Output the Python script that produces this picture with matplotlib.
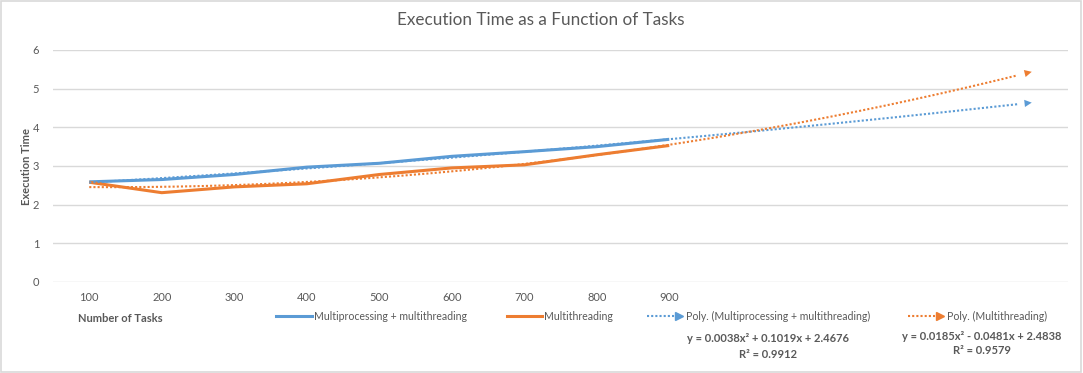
import numpy as np
import matplotlib
matplotlib.use("Agg")
import matplotlib.pyplot as plt
from matplotlib.lines import Line2D
from matplotlib.patches import Rectangle

# data
tasks = ["100", "200", "300", "400", "500", "600", "700", "800", "900"]
mp_mt = [2.59, 2.65, 2.78, 2.97, 3.07, 3.25, 3.37, 3.50, 3.69]
mt = [2.58, 2.31, 2.46, 2.54, 2.78, 2.95, 3.03, 3.29, 3.53]
# trendline coefficients as printed on the chart (x = category index 1..9)
poly_mp_mt = [0.0038, 0.1019, 2.4676]
poly_mt = [0.0185, -0.0481, 2.4838]
r2_mp_mt = 0.9912
r2_mt = 0.9579
forecast = 5

BLUE = "#5B9BD5"
ORANGE = "#ED7D31"
TXT = "#595959"
GRID = "#D9D9D9"

plt.rcParams["font.family"] = ["Lato", "DejaVu Sans"]
FS = 7.6    # regular text
FSB = 8.0   # bold text

W, H = 1083, 373
fig = plt.figure(figsize=(W / 100, H / 100), dpi=100)
fx = lambda p: p / W
fy = lambda p: 1 - p / H

ax = fig.add_axes([fx(53), fy(282), fx(1068) - fx(53), fy(50) - fy(282)])

x = np.arange(1, len(tasks) + 1)
ax.plot(x, mp_mt, color=BLUE, lw=2.2, solid_capstyle="butt", zorder=3)
ax.plot(x, mt, color=ORANGE, lw=2.2, solid_capstyle="butt", zorder=3)

xt = np.linspace(1, len(tasks) + forecast, 200)
for coef, col in [(poly_mp_mt, BLUE), (poly_mt, ORANGE)]:
    yt = np.polyval(coef, xt)
    ax.plot(xt[:-3], yt[:-3], color=col, lw=1.5, ls=(0, (1, 1)), zorder=4)
    ax.annotate("", xy=(xt[-1], yt[-1]), xytext=(xt[-6], yt[-6]),
                arrowprops=dict(arrowstyle="-|>", color=col, lw=0,
                                mutation_scale=13, shrinkA=0, shrinkB=0))

ax.set_xlim(0.5, len(tasks) + forecast + 0.5)
ax.set_ylim(0, 6)
ax.set_yticks(range(0, 7))
ax.set_xticks(x)
ax.set_xticklabels(tasks)
ax.tick_params(length=0, labelsize=FS + 0.4, labelcolor=TXT)
ax.tick_params(axis="x", pad=7)
ax.tick_params(axis="y", pad=10)
ax.grid(axis="y", color=GRID, lw=1)
ax.set_axisbelow(True)
for s in ax.spines.values():
    s.set_visible(False)

fig.text(fx(541), fy(20), "Execution Time as a Function of Tasks",
         ha="center", va="center", fontsize=12.3, color=TXT)
fig.text(fx(27), fy(166), "Execution Time", rotation=90, ha="center",
         va="center", fontsize=FSB, color=TXT, fontweight="bold")
fig.text(fx(78), fy(318), "Number of Tasks", ha="left", va="center",
         fontsize=FSB, color=TXT, fontweight="bold")

# legend along the bottom
ly = fy(316)
fig.add_artist(Line2D([fx(276), fx(312)], [ly, ly], color=BLUE, lw=2.2,
                      transform=fig.transFigure))
fig.text(fx(314), ly, "Multiprocessing + multithreading", ha="left",
         va="center", fontsize=FS, color=TXT)
fig.add_artist(Line2D([fx(507), fx(542)], [ly, ly], color=ORANGE, lw=2.2,
                      transform=fig.transFigure))
fig.text(fx(544), ly, "Multithreading", ha="left", va="center",
         fontsize=FS, color=TXT)
for x0, col, label in [(647, BLUE, "Poly. (Multiprocessing + multithreading)"),
                       (908, ORANGE, "Poly. (Multithreading)")]:
    fig.add_artist(Line2D([fx(x0), fx(x0 + 28)], [ly, ly], color=col, lw=1.5,
                          ls=(0, (1, 1)), transform=fig.transFigure))
    fig.add_artist(Line2D([fx(x0 + 32)], [ly], color=col, marker=">",
                          markersize=6, lw=0, transform=fig.transFigure))
    fig.text(fx(x0 + 39), ly, label, ha="left", va="center",
             fontsize=FS, color=TXT)

def eq_text(c):
    s = "y = %.4fx² " % c[0]
    s += ("+ %.4fx " % c[1]) if c[1] >= 0 else ("- %.4fx " % -c[1])
    s += ("+ %.4f" % c[2]) if c[2] >= 0 else ("- %.4f" % -c[2])
    return s

fig.text(fx(768), fy(339), eq_text(poly_mp_mt), ha="center", va="center",
         fontsize=FSB, color=TXT, fontweight="bold")
fig.text(fx(768), fy(354), "R² = %.4f" % r2_mp_mt, ha="center", va="center",
         fontsize=FSB, color=TXT, fontweight="bold")
fig.text(fx(982), fy(336), eq_text(poly_mt), ha="center", va="center",
         fontsize=FSB, color=TXT, fontweight="bold")
fig.text(fx(982), fy(351), "R² = %.4f" % r2_mt, ha="center", va="center",
         fontsize=FSB, color=TXT, fontweight="bold")

fig.add_artist(Rectangle((0.001, 0.002), 0.997, 0.995, fill=False,
                         edgecolor=GRID, lw=1.2, transform=fig.transFigure))

fig.savefig("out.png", dpi=100)
